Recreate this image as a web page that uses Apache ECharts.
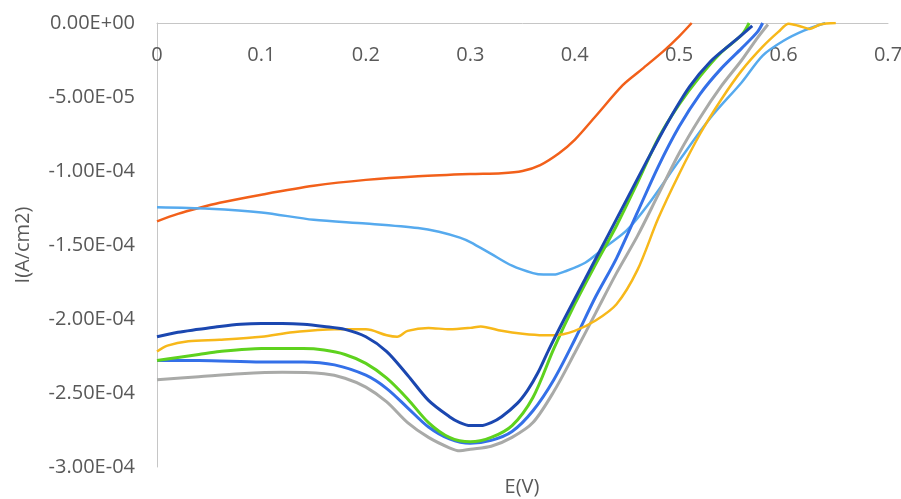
<!DOCTYPE html>
<html>
<head>
<meta charset="utf-8">
<script src="https://cdn.jsdelivr.net/npm/echarts@6/dist/echarts.min.js"></script>
<style>
html,body{margin:0;padding:0;background:#fff;}
#chart{width:901px;height:499px;}
</style>
</head>
<body>
<div id="chart"></div>
<script>
// Values: E in V, I in units of 1E-4 A/cm2
var orangeE = [0,0.02,0.04,0.06,0.1,0.15,0.2,0.25,0.3,0.33,0.35,0.367,0.385,0.40,0.42,0.446,0.463,0.485,0.50,0.512];
var orangeI = [-1.34,-1.29,-1.25,-1.215,-1.16,-1.10,-1.06,-1.035,-1.02,-1.015,-1.00,-0.96,-0.88,-0.79,-0.63,-0.42,-0.32,-0.19,-0.09,0];

var lightBlueE = [0,0.05,0.1,0.15,0.2,0.25,0.27,0.29,0.3,0.32,0.34,0.36,0.37,0.38,0.39,0.41,0.43,0.45,0.47,0.5,0.53,0.56,0.58,0.6,0.62,0.64];
var lightBlueI = [-1.245,-1.255,-1.28,-1.33,-1.355,-1.385,-1.41,-1.45,-1.48,-1.56,-1.64,-1.69,-1.70,-1.70,-1.68,-1.62,-1.51,-1.40,-1.23,-0.93,-0.64,-0.40,-0.22,-0.12,-0.05,0];

var yellowE = [0,0.01,0.03,0.06,0.1,0.13,0.17,0.2,0.22,0.23,0.24,0.26,0.28,0.3,0.31,0.33,0.35,0.37,0.38,0.40,0.42,0.44,0.46,0.48,0.5,0.52,0.54,0.56,0.58,0.595,0.605,0.615,0.625,0.635,0.65];
var yellowI = [-2.22,-2.18,-2.15,-2.14,-2.12,-2.09,-2.07,-2.07,-2.11,-2.12,-2.08,-2.06,-2.07,-2.06,-2.05,-2.08,-2.10,-2.11,-2.11,-2.08,-2.01,-1.90,-1.67,-1.32,-1.02,-0.75,-0.52,-0.32,-0.16,-0.06,-0.005,-0.02,-0.04,-0.01,0];

var grayE = [0,0.04,0.08,0.12,0.16,0.18,0.2,0.22,0.24,0.26,0.28,0.29,0.30,0.32,0.34,0.36,0.38,0.40,0.42,0.44,0.46,0.48,0.50,0.52,0.54,0.56,0.575,0.585];
var grayI = [-2.41,-2.39,-2.37,-2.36,-2.37,-2.40,-2.46,-2.56,-2.70,-2.80,-2.87,-2.89,-2.88,-2.86,-2.80,-2.70,-2.49,-2.23,-1.96,-1.69,-1.44,-1.16,-0.88,-0.64,-0.43,-0.25,-0.10,-0.01];

var midBlueE = [0,0.04,0.1,0.14,0.17,0.2,0.22,0.24,0.26,0.28,0.30,0.32,0.34,0.36,0.38,0.40,0.42,0.44,0.46,0.48,0.50,0.52,0.54,0.56,0.575,0.58];
var midBlueI = [-2.28,-2.28,-2.29,-2.29,-2.31,-2.38,-2.47,-2.60,-2.73,-2.81,-2.84,-2.82,-2.76,-2.62,-2.41,-2.14,-1.85,-1.59,-1.28,-0.97,-0.70,-0.48,-0.31,-0.17,-0.06,0];

var greenE = [0,0.02,0.04,0.06,0.1,0.14,0.16,0.18,0.2,0.22,0.24,0.26,0.28,0.30,0.32,0.34,0.36,0.38,0.40,0.42,0.44,0.46,0.48,0.50,0.52,0.54,0.56,0.567];
var greenI = [-2.28,-2.26,-2.24,-2.22,-2.20,-2.20,-2.21,-2.24,-2.30,-2.40,-2.54,-2.70,-2.80,-2.83,-2.80,-2.72,-2.53,-2.20,-1.90,-1.63,-1.37,-1.08,-0.78,-0.55,-0.36,-0.20,-0.08,0];

var darkBlueE = [0,0.02,0.04,0.06,0.08,0.1,0.12,0.14,0.16,0.18,0.2,0.22,0.24,0.26,0.28,0.29,0.30,0.31,0.32,0.33,0.345,0.355,0.365,0.375,0.39,0.41,0.43,0.45,0.47,0.49,0.51,0.53,0.55,0.565,0.57];
var darkBlueI = [-2.12,-2.09,-2.07,-2.05,-2.035,-2.03,-2.03,-2.035,-2.05,-2.07,-2.12,-2.22,-2.38,-2.55,-2.66,-2.70,-2.72,-2.72,-2.70,-2.66,-2.57,-2.48,-2.36,-2.21,-2.00,-1.73,-1.46,-1.19,-0.92,-0.66,-0.43,-0.26,-0.14,-0.05,-0.02];

var xTicks = [0,0.1,0.2,0.3,0.4,0.5,0.6,0.7];
var yTicks = [0,-0.5,-1.0,-1.5,-2.0,-2.5,-3.0];

function pairs(xs, ys){ return xs.map(function(x,i){ return [x, ys[i]*1e-4]; }); }
function fmtExp(v){
  var s = v.toExponential(2).toUpperCase();
  return s.replace(/E([+-])(\d)$/, 'E$10$2');
}

var chart = echarts.init(document.getElementById('chart'), null, {renderer:'canvas'});
var font = "'Open Sans', 'Noto Sans', sans-serif";
function line(name, xs, ys, color, w){
  return {name:name, type:'line', data:pairs(xs,ys), smooth:0.3, showSymbol:false, symbol:'none',
    lineStyle:{color:color, width:w}, itemStyle:{color:color}};
}
chart.setOption({
  animation:false,
  grid:{left:157, right:13, top:23, bottom:32, containLabel:false, outerBoundsMode:'none'},
  xAxis:{type:'value', min:0, max:0.7, interval:0.1, position:'top',
    axisLine:{show:true, onZero:false, lineStyle:{color:'#c6c6c6', width:1}},
    axisTick:{show:false}, splitLine:{show:false},
    axisLabel:{inside:true, margin:22, color:'#595959', fontSize:20, fontFamily:font,
      formatter:function(v){ return String(+v.toFixed(1)); }}
  },
  yAxis:{type:'value', min:-3e-4, max:0, interval:5e-5,
    name:'I(A/cm2)', nameLocation:'middle', nameGap:124, nameRotate:90,
    nameTextStyle:{color:'#595959', fontSize:20, fontFamily:font},
    axisLine:{show:true, lineStyle:{color:'#c6c6c6', width:1}},
    axisTick:{show:false}, splitLine:{show:false},
    axisLabel:{margin:22, color:'#595959', fontSize:20, fontFamily:font,
      formatter:function(v){ return fmtExp(v); }}
  },
  graphic:[{type:'text', x:522, y:487, style:{text:'E(V)', fill:'#595959', font:'20px '+font, textAlign:'center', textVerticalAlign:'middle'}}],
  series:[
    line('orange', orangeE, orangeI, '#F2601A', 2.5),
    line('lightblue', lightBlueE, lightBlueI, '#56AAEE', 2.5),
    line('gray', grayE, grayI, '#A9AAA8', 3),
    line('midblue', midBlueE, midBlueI, '#3470E8', 3),
    line('green', greenE, greenI, '#5ED21E', 3),
    line('yellow', yellowE, yellowI, '#F7B81A', 2.5),
    line('darkblue', darkBlueE, darkBlueI, '#1B47B0', 3)
  ]
});
</script>
</body>
</html>
